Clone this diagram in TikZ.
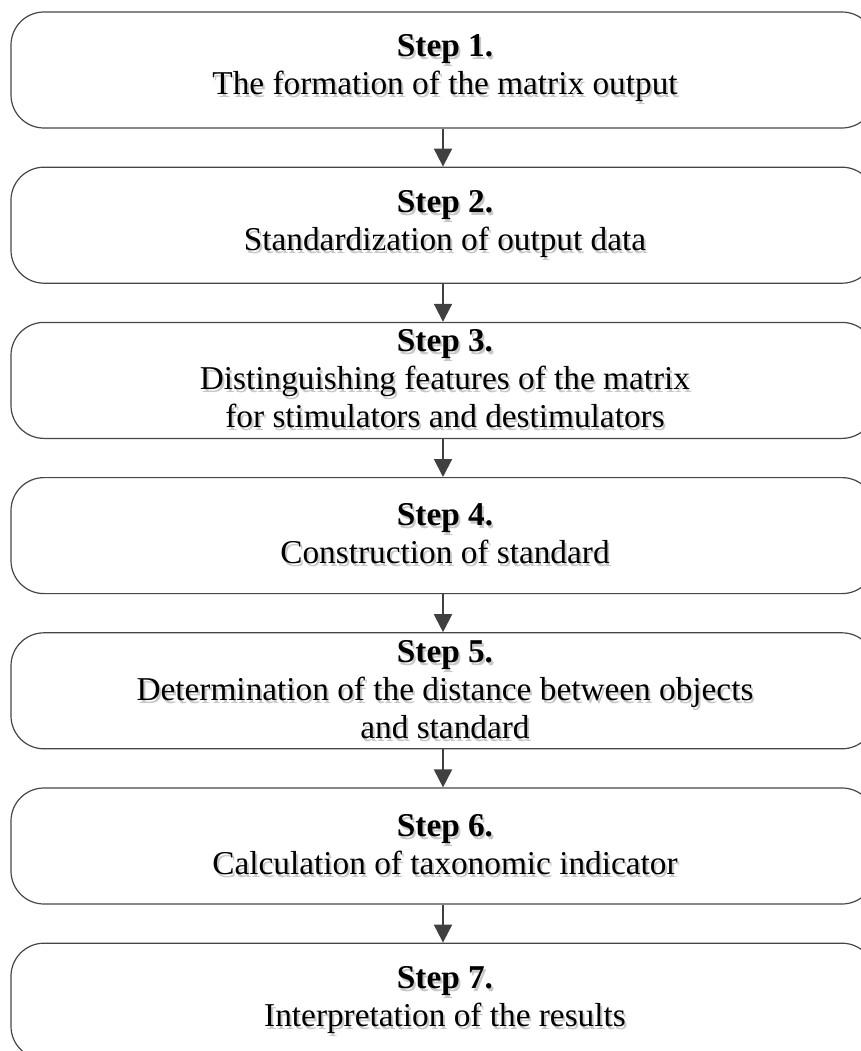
\documentclass[tikz,border=0pt]{standalone}
\usepackage{fontspec}
\setmainfont{Liberation Serif}
\usetikzlibrary{arrows.meta}
\definecolor{edge}{RGB}{70,70,70}
\definecolor{shade}{RGB}{225,225,225}
\definecolor{tshade}{RGB}{200,200,200}
\definecolor{arrowc}{RGB}{64,64,64}
\newcommand\shd[1]{\makebox[0pt][l]{\hspace{2pt}\raisebox{-3pt}{\textcolor{tshade}{#1}}}#1}
\begin{document}
\begin{tikzpicture}[x=1pt,y=-1pt,
  stepbox/.style={draw=edge, line width=1.2pt, minimum width=864pt, minimum height=116pt, rounded corners=33pt, inner sep=0pt},
  boxshade/.style={draw=shade, line width=1.2pt, minimum width=864pt, minimum height=116pt, rounded corners=33pt, inner sep=0pt},
  steptext/.style={align=center, font=\fontsize{33.3}{38}\selectfont, text=black, inner sep=0pt},
  flow/.style={draw=arrowc, line width=2pt, -{Triangle[width=18pt,length=18pt]}}
]
\useasboundingbox (0,0) rectangle (861,1051);
\foreach \i/\t in {1/{\shd{The formation of the matrix output}},
                   2/{\shd{Standardization of output data}},
                   3/{\shd{Distinguishing features of the matrix}\\\shd{for stimulators and destimulators}},
                   4/{\shd{Construction of standard}},
                   5/{\shd{Determination of the distance between objects}\\\shd{and standard}},
                   6/{\shd{Calculation of taxonomic indicator}},
                   7/{\shd{Interpretation of the results}}}{
  \pgfmathsetmacro\cy{70+155.2*(\i-1)}
  \path[boxshade] (446,\cy+3) node {};
  \node[stepbox] (s\i) at (443,\cy) {};
  \node[steptext] (t\i) at (445,\cy) {\shd{\textbf{Step \i.}}\\\t};
}
\foreach \a/\b in {1/2,2/3,3/4,4/5,5/6,6/7}{
  \draw[flow] (s\a.south) -- (s\b.north);
}
\end{tikzpicture}
\end{document}
